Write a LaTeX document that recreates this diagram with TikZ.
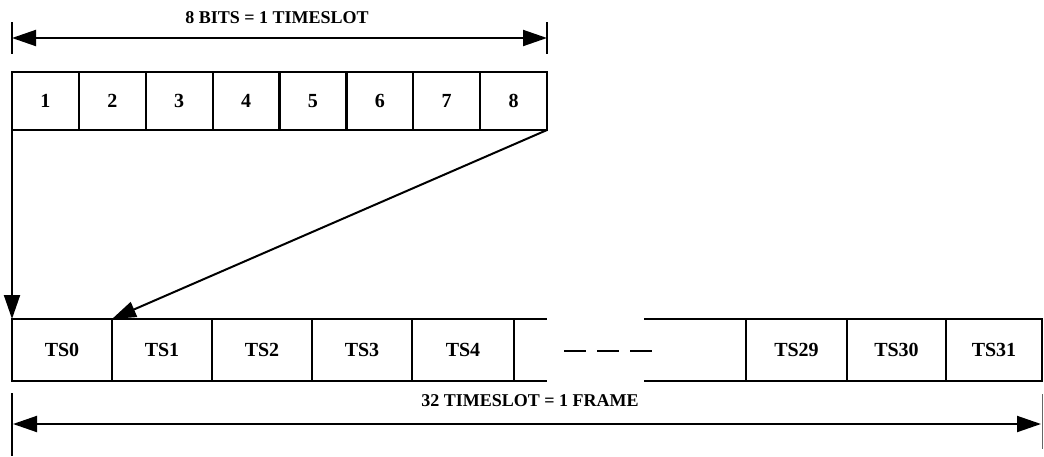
\documentclass[tikz,border=0pt]{standalone}
\usepackage{fontspec}
\setmainfont{Liberation Serif}
\usetikzlibrary{arrows.meta}
\begin{document}
\begin{tikzpicture}[x=1pt,y=-1pt,
  lbl/.style={font=\fontsize{18}{20}\selectfont\bfseries, inner sep=0pt},
  boxlbl/.style={font=\fontsize{20}{22}\selectfont\bfseries},
  bitbox/.style={draw, line width=2.2pt, minimum width=66.9pt, minimum height=58pt, inner sep=0pt, outer sep=0pt, anchor=north west, boxlbl},
  tsbox/.style={draw, line width=2.2pt, minimum height=62pt, inner sep=0pt, outer sep=0pt, anchor=north west, boxlbl},
  edge/.style={line width=2.2pt},
  conn/.style={line width=2pt, -{Triangle[length=24pt,width=16pt]}},
  dimarrow/.style={line width=2pt, {Triangle[length=24pt,width=16pt]}-{Triangle[length=24pt,width=16pt]}}]
\useasboundingbox (0,0) rectangle (1044,456);
% top dimension
\coordinate (tl1) at (12,22); \coordinate (tl2) at (12,54);
\coordinate (tr1) at (547,22); \coordinate (tr2) at (547,54);
\coordinate (ta) at (12,38); \coordinate (tb) at (547,38);
\draw[edge] (tl1) -- (tl2);
\draw[edge] (tr1) -- (tr2);
\draw[dimarrow] (ta) -- (tb);
\node[lbl] (toplabel) at (277,18) {8 BITS = 1 TIMESLOT};
% bits
\foreach \i in {1,...,8} {
  \node[bitbox] (b\i) at ({12+(\i-1)*66.875},72) {\i};
}
% timeslots
\foreach \x/\w/\n in {12/100/0, 112/100/1, 212/100/2, 312/100/3, 412/102/4, 746/101/29, 847/99/30, 946/96/31} {
  \node[tsbox, minimum width=\w pt] (ts\n) at (\x,319) {TS\n};
}
% open boxes
\draw[edge] (ts4.north east) -- ++(33,0);
\draw[edge] (ts4.south east) -- ++(33,0);
\draw[edge] (ts29.north west) -- ++(-102,0);
\draw[edge] (ts29.south west) -- ++(-102,0);
\draw[line width=2pt, dash pattern=on 22pt off 11pt] (564,351) -- (654,351);
% connectors
\draw[conn] (b1.south west) -- (ts0.north west);
\draw[conn] (b8.south east) -- (ts1.north west);
% bottom dimension
\coordinate (bl1) at (12,393); \coordinate (bl2) at (12,456);
\coordinate (br1) at (1042,394); \coordinate (br2) at (1042,449);
\coordinate (ba) at (13,424); \coordinate (bb) at (1041,424);
\draw[edge] (bl1) -- (bl2);
\draw[line width=0.8pt, black!60] (br1) -- (br2);
\draw[dimarrow] (ba) -- (bb);
\node[lbl] (botlabel) at (530,401) {32 TIMESLOT = 1 FRAME};
\end{tikzpicture}
\end{document}
